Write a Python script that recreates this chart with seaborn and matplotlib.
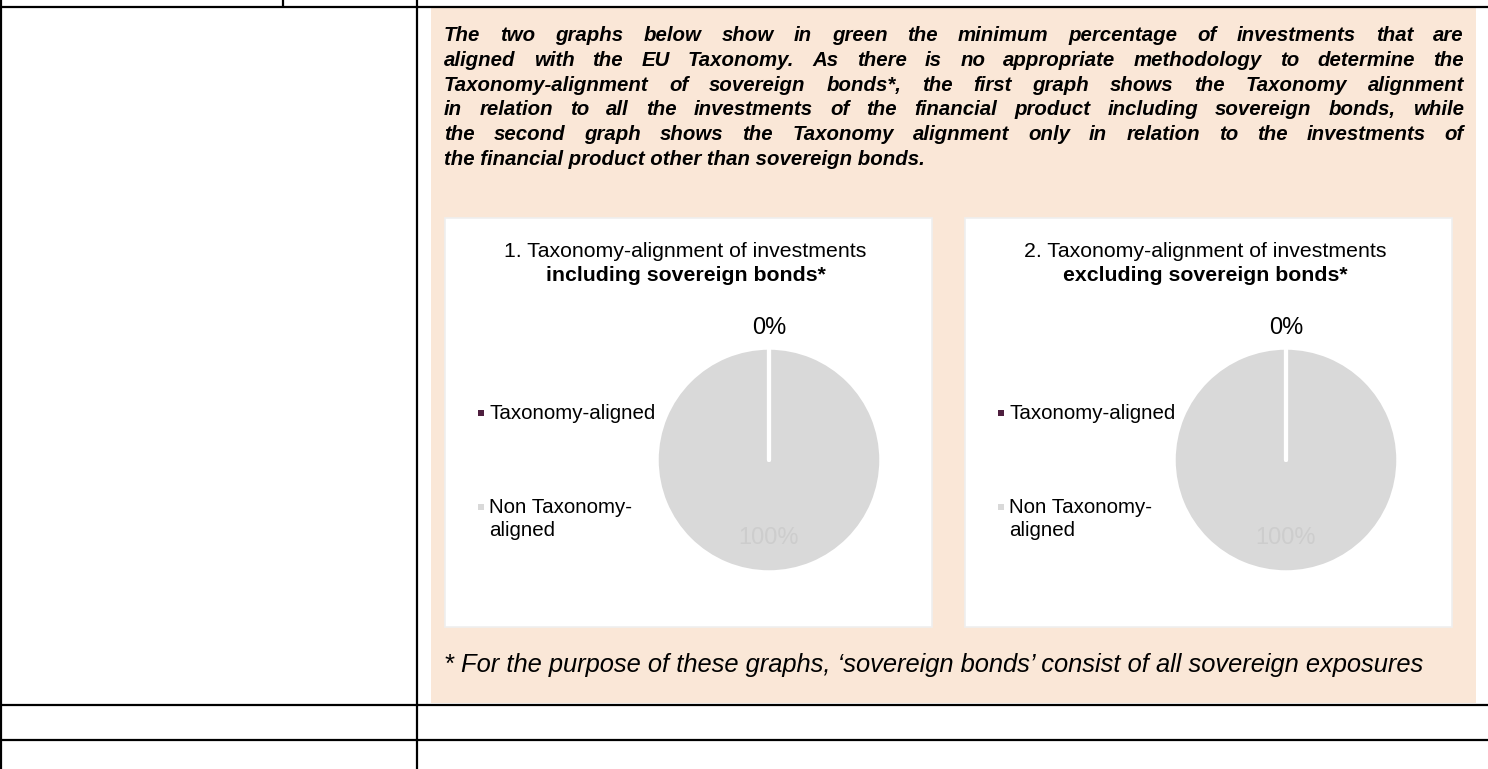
"""
Taxonomy-alignment pie charts (SFDR template panel), redrawn with seaborn/matplotlib
"""

import numpy as np
import matplotlib
matplotlib.use('Agg')
import matplotlib.pyplot as plt
from matplotlib.patches import Rectangle
import seaborn as sns

# ---- data ----
categories = ['Taxonomy-aligned', 'Non Taxonomy-\naligned']
incl_values = [0, 100]   # chart 1: including sovereign bonds
excl_values = [0, 100]   # chart 2: excluding sovereign bonds
slice_colors = ['#4E1F3E', '#D9D9D9']

chart_titles = [
    ('1. Taxonomy-alignment of investments', 'including sovereign bonds*'),
    ('2. Taxonomy-alignment of investments', 'excluding sovereign bonds*'),
]

intro_lines = [
    'The two graphs below show in green the minimum percentage of investments that are',
    'aligned with the EU Taxonomy. As there is no appropriate methodology to determine the',
    'Taxonomy-alignment of sovereign bonds*, the first graph shows the Taxonomy alignment',
    'in relation to all the investments of the financial product including sovereign bonds, while',
    'the second graph shows the Taxonomy alignment only in relation to the investments of',
    'the financial product other than sovereign bonds.',
]
footnote = '* For the purpose of these graphs, \u2018sovereign bonds\u2019 consist of all sovereign exposures'

# ---- style ----
sns.set_theme(style='white')
plt.rcParams['font.family'] = ['Liberation Sans', 'DejaVu Sans']

W, H = 1488, 769
BEIGE = '#FAE7D7'

fig = plt.figure(figsize=(W / 100, H / 100), dpi=100)
fig.patch.set_facecolor('white')

# background axes in pixel coordinates (y grows downwards)
bg = fig.add_axes([0, 0, 1, 1])
bg.set_xlim(0, W)
bg.set_ylim(H, 0)
bg.axis('off')

# table grid
line_kw = dict(color='black', lw=1.6)
bg.hlines([6.5, 704.5, 739.5], 0, W, **line_kw)
bg.vlines([1, 417], 0, H, **line_kw)
bg.vlines(283, 0, 6.5, **line_kw)

# beige panel
bg.add_patch(Rectangle((431, 8), 1045, 695, fc=BEIGE, ec='none', zorder=0))

# justified intro paragraph
renderer = fig.canvas.get_renderer()
x_left, x_right = 444, 1464
para_kw = dict(fontsize=14.7, fontweight='bold', fontstyle='italic', color='black', va='baseline')
for i, line in enumerate(intro_lines):
    y = 41 + i * 24.8
    if i == len(intro_lines) - 1:
        bg.text(x_left, y, line, ha='left', **para_kw)
        continue
    words = line.split(' ')
    txts = [bg.text(0, y, w, ha='left', **para_kw) for w in words]
    widths = [t.get_window_extent(renderer).width for t in txts]
    gap = (x_right - x_left - sum(widths)) / (len(words) - 1)
    x = x_left
    for t, w in zip(txts, widths):
        t.set_x(x)
        x += w + gap

# footnote
bg.text(444, 672, footnote, fontsize=18.4, fontstyle='italic', color='black', ha='left', va='baseline')

# ---- the two chart boxes ----
box_lefts = [445, 965]
box_w, box_top, box_h = 487, 218, 409
pie_cx = [769, 1286]
legend_x = [478, 998]
all_values = [incl_values, excl_values]

for k in range(2):
    bl = box_lefts[k]
    bg.add_patch(Rectangle((bl, box_top), box_w, box_h, fc='white', ec='#EFEFEF', lw=1.2, zorder=1))

    # titles
    tcx = bl + box_w / 2 - 3
    bg.text(tcx, 257, chart_titles[k][0], fontsize=15.3, ha='center', va='baseline', color='black', zorder=3)
    bg.text(tcx, 281, chart_titles[k][1], fontsize=15.3, fontweight='bold', ha='center', va='baseline',
            color='black', zorder=3)

    # legend (left side of the box)
    leg_base = [419, 513]
    for j, lab in enumerate(categories):
        bg.add_patch(Rectangle((legend_x[k], leg_base[j] - 9), 6, 6, fc=slice_colors[j], ec='none', zorder=3))
        for n, part in enumerate(lab.split('\n')):
            bg.text(legend_x[k] + 11, leg_base[j] + n * 23, part, fontsize=14.8, ha='left', va='baseline',
                    color='black', zorder=3)

    # pie axes: radius 112 px around centre
    cx, cy, R, half = pie_cx[k], 460, 112, 160
    ax = fig.add_axes([(cx - half) / W, 1 - (cy + half) / H, 2 * half / W, 2 * half / H])
    ax.set_facecolor('none')
    wedges, _, autotexts = ax.pie(
        all_values[k], colors=slice_colors, startangle=90, counterclock=False,
        autopct='%1.0f%%', pctdistance=0.70,
        wedgeprops=dict(edgecolor='white', linewidth=2.5),
        textprops=dict(fontsize=17),
    )
    # slice borders (the zero slice collapses to a single white radius)
    for w in wedges:
        th = np.deg2rad(w.theta2)
        ax.plot([0, np.cos(th)], [0, np.sin(th)], color='white', lw=3, solid_capstyle='round', zorder=3)
    ax.set_xlim(-half / R, half / R)
    ax.set_ylim(-half / R, half / R)
    ax.set_aspect('equal')
    ax.axis('off')
    # 0% label sits outside the pie, 100% label inside in light grey
    px, py = autotexts[0].get_position()
    autotexts[0].set_position((px / 0.70 * 1.18, py / 0.70 * 1.18))
    autotexts[0].set_color('black')
    autotexts[1].set_color('#CDCDCD')

plt.savefig('out.png', dpi=100)
